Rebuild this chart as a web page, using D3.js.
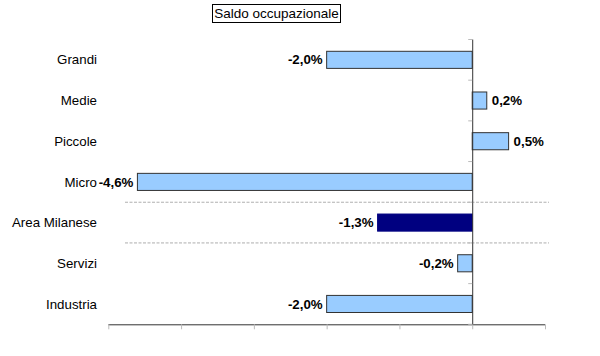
<!DOCTYPE html>
<html><head><meta charset="utf-8">
<script src="https://cdn.jsdelivr.net/npm/d3@7"></script>
<style>body{margin:0;background:#fff}svg{display:block;font-family:"Liberation Sans",Arial,sans-serif}</style>
</head><body><svg id="c" width="600" height="356"></svg>
<script>
const title = "Saldo occupazionale";
const categories = ["Grandi","Medie","Piccole","Micro","Area Milanese","Servizi","Industria"];
const values = [-2.0, 0.2, 0.5, -4.6, -1.3, -0.2, -2.0];
const highlight = ["Area Milanese"];
const xTicks = [-5,-4,-3,-2,-1,0,1];
const separatorsAfter = ["Micro","Area Milanese"];

(function(){
const svg = d3.select("#c");
const pLeft = 108.3, pRight = 545, pTop = 39.5, pBottom = 324.3;
const x = d3.scaleLinear().domain([-5,1]).range([pLeft,pRight]);
const y = d3.scaleBand().domain(categories).range([pTop,pBottom]).paddingInner(0.58).paddingOuter(0.29);
const fmt = v => d3.format(".1f")(v).replace(".", ",").replace("−","-") + "%";

// title box
const tg = svg.append("g");
tg.append("rect").attr("x",212.5).attr("y",4.5).attr("width",128).attr("height",18)
  .attr("fill","#fff").attr("stroke","#000").attr("stroke-width",1);
tg.append("text").attr("x",276.5).attr("y",18).attr("text-anchor","middle")
  .attr("font-size",13.5).attr("fill","#000").text(title);

// x axis
const xa = svg.append("g").attr("transform",`translate(0,${pBottom})`)
  .call(d3.axisBottom(x).tickValues(xTicks).tickSize(5).tickFormat(""));
xa.select(".domain").attr("stroke","#333").attr("d",`M${pLeft},0.5H${pRight}`);
xa.selectAll(".tick line").attr("stroke","#bbb");

// separators
const step = y.step();
separatorsAfter.forEach(c => {
  const yy = y(c) + y.bandwidth() + (step - y.bandwidth())/2;
  svg.append("line").attr("x1",125).attr("x2",549).attr("y1",yy).attr("y2",yy)
    .attr("stroke","#999").attr("stroke-width",0.8).attr("stroke-dasharray","3,1.5");
});

// bars
svg.selectAll("rect.bar").data(categories).join("rect").attr("class","bar")
  .attr("x",(d,i)=>Math.min(x(0),x(values[i])))
  .attr("width",(d,i)=>Math.abs(x(values[i])-x(0)))
  .attr("y",d=>y(d)).attr("height",y.bandwidth())
  .attr("fill",d=>highlight.includes(d)?"#000080":"#99ccff")
  .attr("stroke",d=>highlight.includes(d)?"#000080":"#333").attr("stroke-width",1);

// zero line (category axis)
const ya = svg.append("g").attr("transform",`translate(${x(0)},0)`)
  .call(d3.axisLeft(y).tickSize(0).tickFormat(""));
ya.select(".domain").attr("stroke","#333").attr("d",`M0.5,${pTop}V${pBottom}`);
d3.range(categories.length+1).forEach(i=>{
  const yy = pTop + i*step;
  svg.append("line").attr("x1",x(0)-4).attr("x2",x(0)).attr("y1",yy).attr("y2",yy).attr("stroke","#bbb");
});

// category labels
svg.selectAll("text.cat").data(categories).join("text").attr("class","cat")
  .attr("x",97).attr("y",d=>y(d)+y.bandwidth()/2).attr("dy","0.35em")
  .attr("text-anchor","end").attr("font-size",13.3).attr("fill","#000").text(d=>d);

// value labels
svg.selectAll("text.val").data(categories).join("text").attr("class","val")
  .attr("x",(d,i)=>values[i]<0? x(values[i])-4 : x(values[i])+5)
  .attr("y",d=>y(d)+y.bandwidth()/2).attr("dy","0.35em")
  .attr("text-anchor",(d,i)=>values[i]<0?"end":"start")
  .attr("font-size",13.3).attr("font-weight","bold").attr("fill","#000")
  .text((d,i)=>fmt(values[i]));
})();
</script></body></html>
